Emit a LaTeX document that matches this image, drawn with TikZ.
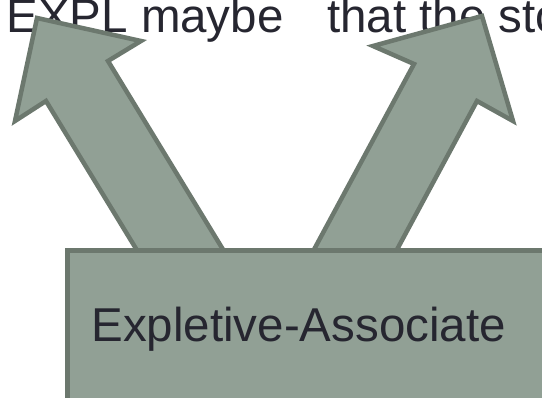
\documentclass[tikz,border=0pt]{standalone}
\usepackage{fontspec}
\setmainfont{Liberation Sans}
\definecolor{sagefill}{RGB}{145,160,149}
\definecolor{sageline}{RGB}{108,120,110}
\definecolor{inkdark}{RGB}{38,38,48}
\tikzset{
  bigtext/.style={inner sep=0pt, anchor=base west, text=inkdark,
    font=\fontsize{47.5}{57}\selectfont},
  sagearrow/.style={fill=sagefill, draw=sageline, line width=4.5pt, line join=miter},
  sagebox/.style={rectangle, fill=sagefill, draw=sageline, line width=5pt,
    inner sep=0pt, anchor=north west}
}
\begin{document}
\begin{tikzpicture}[x=1pt,y=-1pt]
  \useasboundingbox (0,0) rectangle (542,398);
  \clip (0,0) rectangle (542,398);

  % heading words
  \node[bigtext] (expl) at (6.2,33) {EXPL maybe};
  \node[bigtext] (that) at (327,33) {that the sto};

  % left block arrow
  \coordinate (la-tip) at (37,18);
  \filldraw[sagearrow] (la-tip) -- (141,41) -- (108,61) -- (235.5,270)
    -- (149,270) -- (46,101) -- (15,121) -- cycle;

  % right block arrow
  \coordinate (ra-tip) at (482,16);
  \filldraw[sagearrow] (ra-tip) -- (513,121) -- (477,101) -- (386,270)
    -- (303,270) -- (414,64) -- (373,46) -- cycle;

  % base box
  \node[sagebox, minimum width=500pt, minimum height=151pt] (box) at (64.5,248) {};
  \node[bigtext] (boxlabel) at (91.2,342) {Expletive-Associate};
\end{tikzpicture}
\end{document}
